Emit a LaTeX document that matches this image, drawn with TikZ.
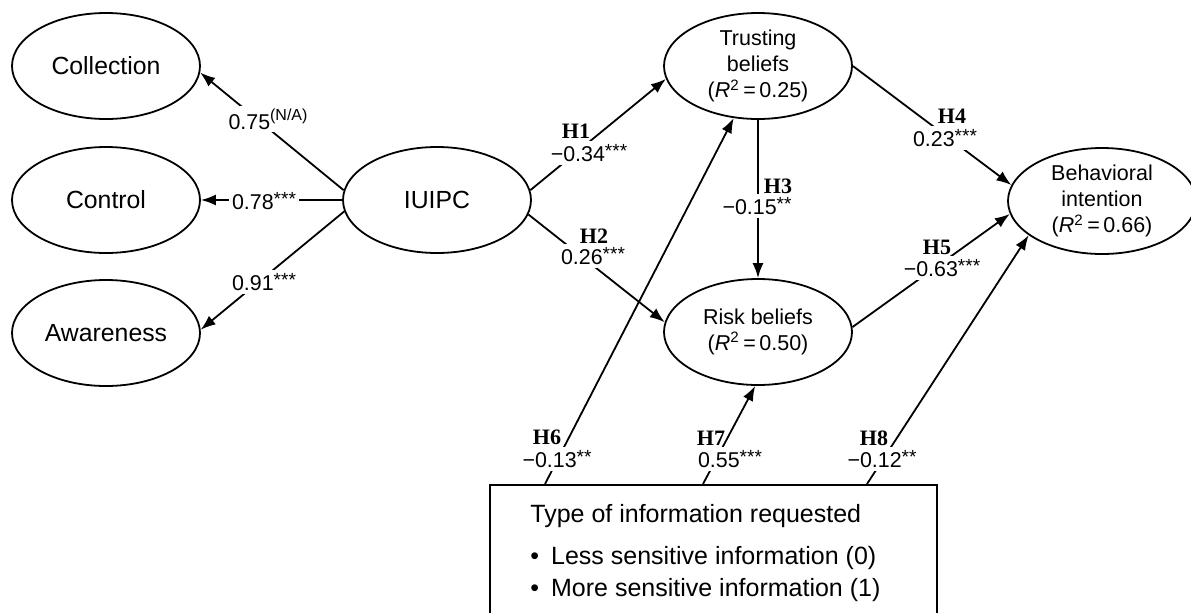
\documentclass[tikz,border=0pt]{standalone}
\usepackage{fontspec}
\setmainfont{Liberation Sans}
\newfontfamily\hypfont{Liberation Serif}
\usetikzlibrary{shapes.geometric,arrows.meta,calc}
\newcommand\sigstars[1]{\raisebox{0.2em}{\fontsize{9.5}{10}\selectfont#1}}
\newcommand\supnote[1]{\raisebox{0.42em}{\fontsize{8}{9}\selectfont#1}}
\begin{document}
\begin{tikzpicture}[x=0.5pt,y=-0.5pt,
  ell/.style={draw, line width=0.9pt, ellipse, minimum width=94pt, minimum height=53pt, inner sep=0pt, align=center},
  big/.style={font=\fontsize{12.4}{15}\selectfont},
  small/.style={font=\fontsize{10.75}{13.2}\selectfont},
  arr/.style={line width=0.9pt, -{Latex[length=7.5pt,width=5.5pt]}},
  val/.style={fill=white, inner sep=1.5pt, font=\fontsize{10.7}{12}\selectfont},
  hyp/.style={inner sep=0pt, font=\hypfont\bfseries\fontsize{11}{12}\selectfont},
  frame/.style={draw, line width=0.9pt, anchor=north west, minimum width=223.5pt, minimum height=100pt, inner sep=0pt},
  boxtext/.style={anchor=north west, align=left, inner sep=0pt, font=\fontsize{12.5}{16}\selectfont}
  ]
\useasboundingbox (0,0) rectangle (1191,612);
\clip (0,0) rectangle (1191,612);

% latent variables
\node[ell,big] (coll) at (106,66) {Collection};
\node[ell,big] (ctrl) at (106,200) {Control};
\node[ell,big] (awar) at (106,333) {Awareness};
\node[ell,big] (iuipc) at (437,200) {IUIPC};
\node[ell,small] (trust) at (758,66) {Trusting\\beliefs\\(\textit{R}\textsuperscript{2}\,=\,0.25)};
\node[ell,small] (risk) at (758,332) {Risk beliefs\\(\textit{R}\textsuperscript{2}\,=\,0.50)};
\node[ell,small] (behav) at (1102,201) {Behavioral\\intention\\(\textit{R}\textsuperscript{2}\,=\,0.66)};

% box
\node[frame] (box) at (489,484) {};
\node[boxtext] (boxt) at (530,504) {Type of information requested\\[5pt]
•\hspace{6pt}Less sensitive information (0)\\
•\hspace{6pt}More sensitive information (1)};
\coordinate (b6) at (545,484);
\coordinate (b7) at (703,484);
\coordinate (b8) at (867,484);

% connectors
\draw[arr] (iuipc.174) -- (coll.-4);
\draw[arr] (iuipc.west) -- (ctrl.east);
\draw[arr] (iuipc.187) -- (awar.2);
\draw[arr] (iuipc.6) -- (trust.188);
\draw[arr] (iuipc.-9) -- (risk.174);
\draw[arr] (trust.south) -- (risk.north);
\draw[arr] (trust.east) -- (behav.170);
\draw[arr] (risk.3) -- (behav.188);
\draw[arr] (b6) -- (trust.245);
\draw[arr] (b7) -- (risk.267);
\draw[arr] (b8) -- (behav.205);

% labels
\node[val] (l75) at (268,119) {0.75\supnote{(N/A)}};
\node[val] (l78) at (264,201) {0.78\sigstars{***}};
\node[val] (l91) at (264,282) {0.91\sigstars{***}};

\node[val] (l1) at (589,153) {−0.34\sigstars{***}};
\node[hyp] (h1) at (576,131) {H1};
\node[val] (l2) at (593,256) {0.26\sigstars{***}};
\node[hyp] (h2) at (594,236) {H2};
\node[val] (l3) at (757,206) {−0.15\sigstars{**}};
\node[hyp] (h3) at (778,186) {H3};
\node[val] (l4) at (945,138) {0.23\sigstars{***}};
\node[hyp] (h4) at (952,116) {H4};
\node[val] (l5) at (942,268) {−0.63\sigstars{***}};
\node[hyp] (h5) at (937,247) {H5};
\node[val] (l6) at (557,459) {−0.13\sigstars{**}};
\node[hyp] (h6) at (547,437) {H6};
\node[val] (l7) at (730,459) {0.55\sigstars{***}};
\node[hyp] (h7) at (711,438) {H7};
\node[val] (l8) at (882,459) {−0.12\sigstars{**}};
\node[hyp] (h8) at (874,438) {H8};
\end{tikzpicture}
\end{document}
